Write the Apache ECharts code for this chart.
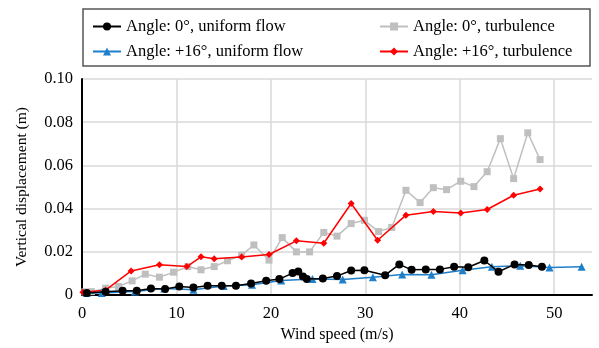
<!DOCTYPE html>
<html>
<head>
<meta charset="utf-8">
<script src="https://cdn.jsdelivr.net/npm/echarts@6/dist/echarts.min.js"></script>
<style>html,body{margin:0;padding:0;background:#fff}#c{width:599px;height:348px}</style>
</head>
<body>
<div id="c"></div>
<script>
const seriesNames = ['Angle: 0°, uniform flow', 'Angle: +16°, uniform flow', 'Angle: 0°, turbulence', 'Angle: +16°, turbulence'];
const xTicks = [0, 10, 20, 30, 40, 50];
const yTicks = [0, 0.02, 0.04, 0.06, 0.08, 0.10];

const blackX = [0.5, 2.5, 4.3, 5.8, 7.3, 8.8, 10.3, 11.8, 13.3, 14.8, 16.3, 17.9, 19.5, 20.9, 22.3, 22.9, 23.4, 23.8, 25.5, 27.0, 28.5, 29.9, 32.1, 33.6, 34.9, 36.4, 37.9, 39.4, 40.9, 42.6, 44.1, 45.8, 47.3, 48.7];
const blackY = [0.001, 0.0015, 0.002, 0.002, 0.0031, 0.0028, 0.004, 0.0035, 0.0043, 0.0043, 0.0043, 0.0054, 0.0066, 0.0074, 0.0102, 0.0109, 0.0086, 0.0074, 0.0077, 0.0088, 0.0114, 0.0115, 0.0092, 0.0142, 0.0117, 0.0119, 0.0119, 0.0131, 0.0129, 0.016, 0.0108, 0.0142, 0.0139, 0.0131];

const blueX = [0.5, 2.1, 5.6, 8.7, 11.8, 15.0, 18.0, 21.1, 24.4, 27.6, 30.8, 33.9, 37.0, 40.3, 43.4, 46.4, 49.5, 52.9];
const blueY = [0.001, 0.001, 0.0017, 0.0031, 0.0025, 0.0042, 0.0048, 0.0068, 0.0074, 0.0072, 0.0083, 0.0095, 0.0094, 0.0115, 0.0131, 0.0136, 0.0128, 0.0131];

const grayX = [0.3, 1.0, 2.5, 3.85, 5.3, 6.7, 8.2, 9.7, 11.2, 12.6, 14.0, 15.4, 16.9, 18.2, 19.8, 21.2, 22.7, 24.1, 25.6, 27.0, 28.5, 29.9, 31.4, 32.8, 34.3, 35.8, 37.2, 38.6, 40.1, 41.5, 42.9, 44.3, 45.7, 47.2, 48.5];
const grayY = [0.0015, 0.0016, 0.0032, 0.004, 0.0066, 0.0097, 0.0083, 0.0106, 0.0132, 0.0117, 0.0132, 0.0159, 0.0185, 0.0232, 0.0162, 0.0266, 0.02, 0.02, 0.029, 0.0273, 0.0331, 0.0346, 0.0294, 0.0313, 0.0485, 0.0428, 0.0497, 0.0488, 0.0527, 0.0502, 0.0571, 0.0724, 0.0539, 0.0751, 0.0627];

const redX = [0.1, 2.5, 5.2, 8.2, 11.1, 12.6, 14.0, 16.9, 19.8, 22.7, 25.6, 28.5, 31.3, 34.3, 37.2, 40.1, 42.9, 45.7, 48.5];
const redY = [0.0013, 0.0023, 0.0112, 0.014, 0.0132, 0.0177, 0.0168, 0.0176, 0.0188, 0.0251, 0.024, 0.0424, 0.0254, 0.037, 0.0387, 0.038, 0.0396, 0.0462, 0.0491];

const zip = (xs, ys) => xs.map((x, i) => [x, ys[i]]);
const FONT = 'Liberation Serif';

const chart = echarts.init(document.getElementById('c'), null, {renderer: 'canvas'});
const mk = (name, xs, ys, color, symbol, size, z) => ({
  name, type: 'line', data: zip(xs, ys), symbol, symbolSize: size,
  lineStyle: {color, width: 1.5}, itemStyle: {color}, z, animation: false
});
const legendText = {fontFamily: FONT, fontSize: 16.5, color: '#000', lineHeight: 14};

chart.setOption({
  animation: false,
  textStyle: {fontFamily: FONT},
  grid: {left: 82, right: 7, top: 79, bottom: 52},
  graphic: [{type: 'rect', shape: {x: 83, y: 9, width: 507, height: 57},
    style: {fill: '#fff', stroke: '#555', lineWidth: 1.5}, z: 0}],
  legend: [
    {data: [seriesNames[0], seriesNames[1]], orient: 'vertical', left: 92, top: 18, itemGap: 8, padding: 0,
      itemWidth: 28, itemHeight: 10, textStyle: legendText, z: 5},
    {data: [seriesNames[2], seriesNames[3]], orient: 'vertical', left: 379, top: 18, itemGap: 8, padding: 0,
      itemWidth: 28, itemHeight: 10, textStyle: legendText, z: 5}
  ],
  xAxis: {
    type: 'value', min: 0, max: 54, interval: 10,
    name: 'Wind speed (m/s)', nameLocation: 'middle', nameGap: 25,
    nameTextStyle: {fontFamily: FONT, fontSize: 16, color: '#000'},
    axisLine: {show: true, lineStyle: {color: '#000', width: 2}},
    axisTick: {show: false},
    axisLabel: {fontFamily: FONT, fontSize: 16.5, color: '#000', margin: 10,
      formatter: v => xTicks.includes(v) ? String(v) : ''},
    splitLine: {show: true, showMaxLine: false, lineStyle: {color: '#d9d9d9', width: 1.5}}
  },
  yAxis: {
    type: 'value', min: 0, max: 0.1, interval: 0.02,
    name: 'Vertical displacement (m)', nameLocation: 'middle', nameGap: 52,
    nameTextStyle: {fontFamily: FONT, fontSize: 15.5, color: '#000'},
    axisLine: {show: true, lineStyle: {color: '#000', width: 2}},
    axisTick: {show: false},
    axisLabel: {fontFamily: FONT, fontSize: 16.5, color: '#000', margin: 9,
      formatter: v => { const t = yTicks.find(k => Math.abs(k - v) < 1e-9); return t === 0 ? '0' : t.toFixed(2); }},
    splitLine: {show: true, lineStyle: {color: '#d9d9d9', width: 1.5}}
  },
  series: [
    mk(seriesNames[2], grayX, grayY, '#bfbfbf', 'rect', 7, 2),
    mk(seriesNames[3], redX, redY, '#ff0000', 'diamond', 7, 3),
    mk(seriesNames[1], blueX, blueY, '#1f7fc9', 'triangle', 8, 4),
    mk(seriesNames[0], blackX, blackY, '#000000', 'circle', 8, 5)
  ]
});
</script>
</body>
</html>
